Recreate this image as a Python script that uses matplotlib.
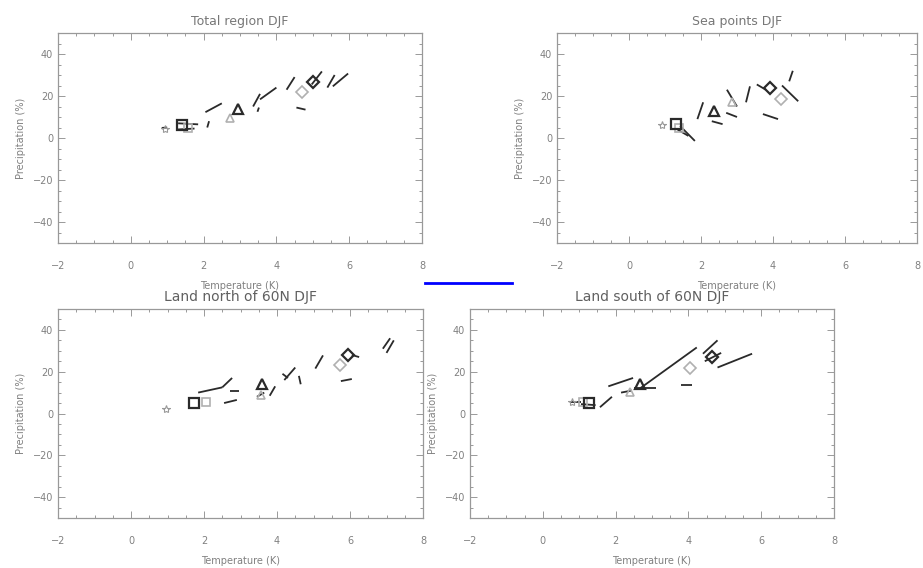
import matplotlib
matplotlib.use("Agg")
import matplotlib.pyplot as plt
from matplotlib.ticker import AutoMinorLocator
from matplotlib.lines import Line2D

titles = ["Total region DJF", "Sea points DJF", "Land north of 60N DJF", "Land south of 60N DJF"]
xticks = [-2, 0, 2, 4, 6, 8]
yticks = [-40, -20, 0, 20, 40]

# segments: (x0, y0, x1, y1)
total_segments = [(0.85, 4.8, 1.0, 5.0), (1.25, 4.0, 1.75, 4.5), (1.3, 7.0, 1.85, 6.5),
                  (2.05, 12.3, 2.5, 16.5), (2.1, 5.0, 2.15, 8.0), (3.36, 15, 3.55, 21),
                  (3.55, 18.4, 4.0, 24), (3.48, 12.5, 3.52, 14.5), (4.28, 23, 4.5, 29),
                  (4.55, 14.5, 4.8, 13.5), (4.97, 25.5, 5.25, 31.7), (5.4, 24, 5.6, 30),
                  (5.55, 24.6, 5.97, 30.7)]
sea_segments = [(1.42, 5.7, 1.83, -1.4), (1.35, 4.0, 1.65, 1.0), (1.9, 9, 2.06, 17),
                (2.3, 8, 2.6, 6.6), (2.72, 23, 3.0, 15), (2.7, 12, 3.0, 10),
                (3.25, 17, 3.36, 24.6), (3.55, 25.5, 3.8, 23), (3.72, 11.4, 4.14, 9),
                (4.25, 25, 4.7, 17.5), (4.45, 27, 4.55, 32)]
north_segments = [(1.84, 10, 2.5, 12.5), (2.5, 12.5, 2.77, 17), (2.7, 11, 2.95, 11),
                  (2.55, 5, 2.9, 6.5), (3.45, 8, 3.65, 10), (3.8, 8.5, 3.95, 13),
                  (4.15, 19, 4.3, 17), (4.2, 16, 4.5, 22), (4.6, 18, 4.65, 14),
                  (5.05, 21.5, 5.26, 27.8), (5.75, 15.5, 6.05, 16.5), (6.05, 28, 6.25, 27),
                  (6.9, 31, 7.1, 36), (7.0, 29, 7.2, 35)]
south_segments = [(0.75, 5.5, 1.05, 5.5), (1.05, 4.5, 1.45, 4.0), (1.57, 3, 1.9, 8),
                  (1.8, 13, 2.48, 17), (2.15, 10, 2.45, 11), (2.5, 12, 3.1, 12),
                  (2.67, 12, 4.23, 31.6), (3.8, 13.7, 4.1, 13.7), (4.4, 28.6, 4.8, 35),
                  (4.45, 25, 4.9, 29), (4.8, 22, 5.75, 28.6)]

# markers: square, triangle, diamond  (black = one ensemble, grey = other)
total_black = [(1.4, 6.0), (2.95, 14.0), (5.0, 26.5)]
total_grey = [(1.57, 5.0), (2.73, 9.4), (4.7, 22.0)]
total_star = (0.95, 4.5)
sea_black = [(1.3, 6.6), (2.36, 12.8), (3.92, 24.0)]
sea_grey = [(1.4, 5.0), (2.86, 17.0), (4.22, 18.8)]
sea_star = (0.92, 6.1)
north_black = [(1.73, 4.9), (3.58, 14.0), (5.95, 27.8)]
north_grey = [(2.05, 5.4), (3.55, 9.0), (5.73, 23.0)]
north_star = (0.96, 2.0)
south_black = [(1.27, 5.0), (2.67, 14.0), (4.65, 27.0)]
south_grey = [(1.1, 5.5), (2.4, 10.5), (4.05, 22.0)]
south_star = (0.8, 5.5)

panels = [
    (titles[0], total_segments, total_black, total_grey, total_star, (58, 33, 422, 243)),
    (titles[1], sea_segments, sea_black, sea_grey, sea_star, (557, 33, 917, 243)),
    (titles[2], north_segments, north_black, north_grey, north_star, (58, 309, 423, 518)),
    (titles[3], south_segments, south_black, south_grey, south_star, (470, 309, 834, 518)),
]

W, H = 923, 568
fig = plt.figure(figsize=(W / 100, H / 100), dpi=100)
fig.patch.set_facecolor("white")
gray = "#999999"
txt = "#808080"
marks = ["s", "^", "D"]

for i, (title, segs, blk, gry, star, (l, t, r, b)) in enumerate(panels):
    ax = fig.add_axes([l / W, (H - b) / H, (r - l) / W, (b - t) / H])
    for (x0, y0, x1, y1) in segs:
        ax.plot([x0, x1], [y0, y1], color="#2a2a2a", lw=1.3, solid_capstyle="butt")
    for m, (x, y) in zip(marks, gry):
        ax.plot(x, y, marker=m, ms=6, mfc="none", mec="#b0b0b0", mew=1.2, ls="none")
    for m, (x, y) in zip(marks, blk):
        ax.plot(x, y, marker=m, ms=6.5, mfc="none", mec="#2a2a2a", mew=1.6, ls="none")
    ax.plot(star[0], star[1], marker="*", ms=6, mfc="none", mec="#999999", mew=0.8, ls="none")
    ax.set_xlim(-2, 8)
    ax.set_ylim(-50, 50)
    ax.set_xticks(xticks)
    ax.set_yticks(yticks)
    ax.xaxis.set_minor_locator(AutoMinorLocator(4))
    ax.yaxis.set_minor_locator(AutoMinorLocator(4))
    ax.tick_params(which="both", direction="in", top=True, right=True, colors=gray,
                   labelcolor=txt, labelsize=7, width=0.7)
    ax.tick_params(which="major", length=5)
    ax.tick_params(which="minor", length=2.5)
    ax.tick_params(axis="x", pad=13)
    for s in ax.spines.values():
        s.set_color(gray)
        s.set_linewidth(0.9)
    ax.set_xlabel("Temperature (K)", fontsize=7, color=txt, labelpad=7)
    ax.set_ylabel("Precipitation (%)", fontsize=7, color=txt, labelpad=5)
    fs = 9 if i < 2 else 10
    ax.set_title(title, fontsize=fs, color="#777777" if i < 2 else "#606060", pad=6)

fig.add_artist(Line2D([425 / W, 512 / W], [(H - 283) / H, (H - 283) / H], color="blue", lw=2))

fig.savefig("out.png", dpi=100)
